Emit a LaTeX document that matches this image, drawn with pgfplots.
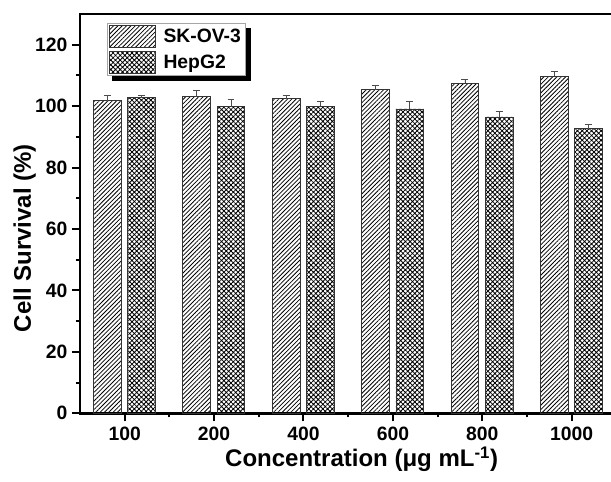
\documentclass[border=0pt]{standalone}
\usepackage{fontspec}
\setmainfont{Liberation Sans}
\usepackage{pgfplots}
\pgfplotsset{compat=1.18}
\usetikzlibrary{patterns.meta}

\pgfplotsset{bigswatch/.style={legend image code/.code={\draw[##1] (0pt,-8.25pt) rectangle (34.5pt,8.25pt);}}}

\begin{document}
\begin{tikzpicture}
\begin{axis}[
    name=ax,
    scale only axis,
    width=398.25pt, height=299.5pt,
    xmin=-0.5, xmax=5.44,
    ymin=0, ymax=130,
    axis lines*=left,
    axis line style={line width=2pt, line cap=rect},
    extra description/.code={\draw[line width=2pt, line cap=rect] (axis description cs:0,1) -- (axis description cs:1,1);},
    xtick={0,...,5},
    xticklabels={100,200,400,600,800,1000},
    minor xtick={0.5,1.5,2.5,3.5,4.5},
    ytick={0,20,...,120},
    minor ytick={10,30,...,110},
    xtick pos=bottom, ytick pos=left,
    xtick align=outside, ytick align=outside,
    major tick length=6pt, minor tick length=3pt,
    xtick style={line width=1.5pt, black},
    ytick style={line width=1.5pt, black},
    /pgf/number format/assume math mode=true,
    ticklabel style={font=\bfseries\fontsize{14.5}{16}\selectfont},
    xticklabel style={yshift=-1pt},
    xlabel={Concentration (μg mL\textsuperscript{-1})},
    ylabel={Cell Survival (\%)},
    label style={font=\bfseries\fontsize{18}{20}\selectfont},
    xlabel style={at={(axis description cs:0.5305,-0.1337)}, anchor=base},
    ylabel style={at={(axis description cs:-0.0923,0.439)}, anchor=base},
    legend style={name=leg, at={(axis description cs:0.0508,0.9775)}, anchor=north west,
        draw=gray!70, line width=0.6pt, fill=white, inner sep=1.5pt,
        row sep=2pt, column sep=3.5pt, font=\bfseries\fontsize{14.5}{16}\selectfont},
    legend cell align=left,
    ybar, bar width=20.8pt,
]
\addplot[draw=black!80, line width=0.6pt, bar shift=-13pt,
    pattern={Lines[angle=45, distance=2.3pt, line width=0.6pt]},
    bigswatch,
    error bars/.cd, y dir=plus, y explicit,
    error bar style={line width=0.6pt, black!70},
    error mark options={rotate=90, line width=0.6pt, black!70, mark size=2.6pt}]
coordinates {
    (0,101.8) +- (0,1.8)
    (1,103.1) +- (0,1.9)
    (2,102.4) +- (0,1.0)
    (3,105.4) +- (0,1.2)
    (4,107.4) +- (0,1.2)
    (5,109.7) +- (0,1.6)
};
\addlegendentry{SK-OV-3}
\addplot[draw=black!80, line width=0.6pt, bar shift=12.7pt,
    pattern={Hatch[angle=45, distance=2.5pt, line width=0.6pt]},
    bigswatch,
    error bars/.cd, y dir=plus, y explicit,
    error bar style={line width=0.6pt, black!70},
    error mark options={rotate=90, line width=0.6pt, black!70, mark size=2.6pt}]
coordinates {
    (0,102.7) +- (0,0.7)
    (1,99.8) +- (0,2.4)
    (2,99.9) +- (0,1.8)
    (3,99.1) +- (0,2.3)
    (4,96.5) +- (0,1.7)
    (5,92.6) +- (0,1.4)
};
\addlegendentry{HepG2}
\end{axis}
\fill[black] ([shift={(0pt,-3.8pt)}]leg.north east) rectangle ([shift={(3.8pt,-3.8pt)}]leg.south east);
\fill[black] ([shift={(3.8pt,0pt)}]leg.south west) rectangle ([shift={(3.8pt,-3.8pt)}]leg.south east);
\pgfresetboundingbox
\useasboundingbox ([shift={(-60pt,-51.5pt)}]ax.south west) rectangle ([shift={(0pt,10.5pt)}]ax.north east);
\end{tikzpicture}
\end{document}
